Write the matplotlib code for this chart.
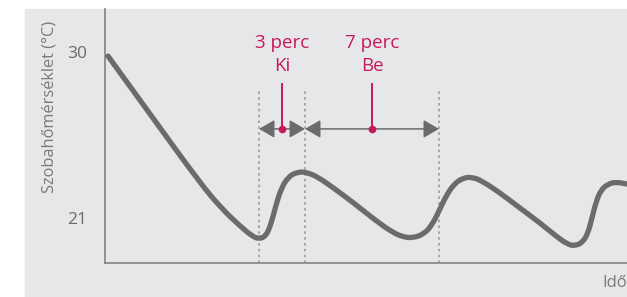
import matplotlib.pyplot as plt
from matplotlib.patches import Rectangle, PathPatch
from matplotlib.path import Path

plt.rcParams['font.family'] = ['Open Sans', 'DejaVu Sans']

# Room temperature over time (time in arbitrary units, temperature in degC)
time = [0.3, 4.5, 9.5, 11.7, 13.5, 14.7, 15.4, 16.1, 16.6, 17.1, 17.6, 18.3,
        19.2, 20.1, 21.3, 23.0, 25.0, 27.0, 28.7, 29.8, 30.8, 31.9, 32.7, 33.4,
        34.1, 34.9, 35.8, 36.7, 37.7, 39.5, 41.5, 43.5, 45.1, 46.2, 47.0, 47.8,
        48.3, 48.7, 49.1, 49.6, 50.3, 51.1, 52.2]
temp = [29.78, 26.64, 22.90, 21.49, 20.57, 20.02, 19.86, 20.02, 20.67, 21.70,
        22.57, 23.22, 23.49, 23.49, 23.22, 22.57, 21.76, 20.89, 20.24, 19.97,
        19.92, 20.13, 20.62, 21.38, 22.19, 22.84, 23.17, 23.22, 23.01, 22.36,
        21.54, 20.73, 20.02, 19.59, 19.48, 19.70, 20.19, 21.00, 21.87, 22.52,
        22.84, 22.95, 22.84]

yticks = [21, 30]
period_bounds = [15.4, 20.0, 33.4]      # dotted separators
period_top = ["3 perc", "7 perc"]
period_bottom = ["Ki", "Be"]

grey_line = "#6b6b6c"
pink = "#c8175d"

fig = plt.figure(figsize=(6.27, 2.97), dpi=100)
fig.patches.append(Rectangle((25 / 627, 0), 1, (297 - 9) / 297,
                             transform=fig.transFigure, color="#e6e7e9", zorder=-10))

ax = fig.add_axes([105 / 627, 34 / 297, 522 / 627, 254 / 297])
ax.patch.set_alpha(0)
ax.set_xlim(0, 52.2)
ax.set_ylim(18.56, 32.33)

# smooth curve: points used as quadratic bezier controls
pts = list(zip(time, temp))
verts = [pts[0]]
codes = [Path.MOVETO]
for i in range(1, len(pts) - 1):
    mid = ((pts[i][0] + pts[i + 1][0]) / 2, (pts[i][1] + pts[i + 1][1]) / 2)
    verts += [pts[i], mid]
    codes += [Path.CURVE3, Path.CURVE3]
verts.append(pts[-1])
codes.append(Path.LINETO)
ax.add_patch(PathPatch(Path(verts, codes), fill=False, edgecolor=grey_line,
                       lw=3.8, capstyle="round", joinstyle="round", zorder=3))

# dotted separators
for x in period_bounds:
    ax.plot([x, x], [18.56, 27.94], color="#9a9a9c", lw=1.2,
            linestyle=(0, (1.5, 2)), zorder=2)

# double arrows with labels
arrow_y = 25.83
for i in range(len(period_top)):
    x0, x1 = period_bounds[i], period_bounds[i + 1]
    ax.annotate("", xy=(x0, arrow_y), xytext=(x1, arrow_y),
                arrowprops=dict(arrowstyle="<|-|>,head_length=0.95,head_width=0.55",
                                color="#6b6b6c", lw=1.1,
                                shrinkA=0, shrinkB=0), zorder=4)
    xm = (x0 + x1) / 2
    ax.plot([xm, xm], [arrow_y, 28.27], color=pink, lw=1.4, zorder=5)
    ax.plot(xm, arrow_y, "o", color=pink, ms=4.5, zorder=6)
    ax.text(xm, 30.49, period_top[i], color=pink, fontsize=13.5,
            ha="center", va="center")
    ax.text(xm, 29.24, period_bottom[i], color=pink, fontsize=13.5,
            ha="center", va="center")

for s in ["top", "right"]:
    ax.spines[s].set_visible(False)
for s in ["left", "bottom"]:
    ax.spines[s].set_color("#8a8a8c")
    ax.spines[s].set_linewidth(1.3)

ax.set_xticks([])
ax.set_yticks(yticks)
ax.set_yticklabels([str(v) for v in yticks], fontsize=12.5, color="#6b6b6c")
ax.tick_params(axis="y", length=0, pad=13)

fig.text(50 / 627, 1 - 107 / 297, "Szobahőmérséklet (°C)", rotation=90,
         ha="center", va="center", fontsize=11.8, color="#7a7a7c")
fig.text(602 / 627, 1 - 283 / 297, "Idő", ha="left", va="center",
         fontsize=12, color="#7a7a7c")

fig.savefig("out.png", dpi=100)
plt.close()
